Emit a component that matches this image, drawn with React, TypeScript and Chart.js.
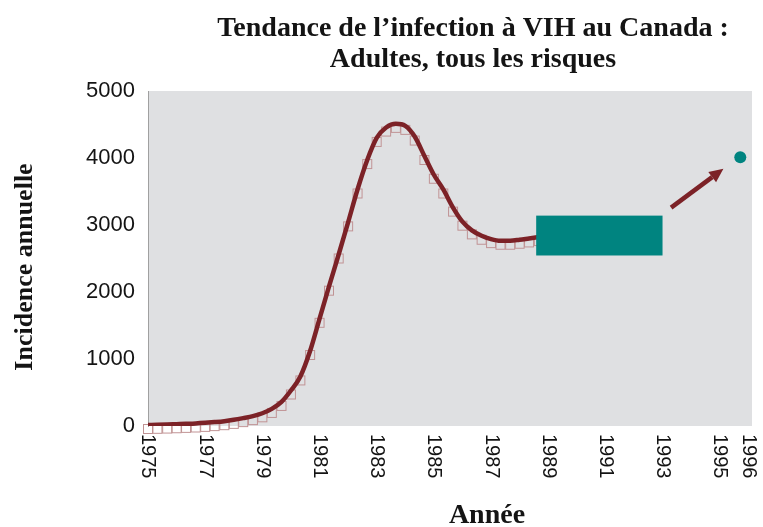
import React, { useEffect, useRef } from "react";
import { Chart, registerables } from "chart.js";

Chart.register(...registerables);

const TITLE_LINES = ["Tendance de l\u2019infection à VIH au Canada :", "Adultes, tous les risques"];
const Y_TITLE = "Incidence annuelle";
const X_TITLE = "Année";

const X_TICKS = [1975, 1977, 1979, 1981, 1983, 1985, 1987, 1989, 1991, 1993, 1995, 1996];
const Y_TICKS = [0, 1000, 2000, 3000, 4000, 5000];

const YEARS = [
  1975.0, 1975.33, 1975.67, 1976.0, 1976.33, 1976.67, 1977.0, 1977.33, 1977.67,
  1978.0, 1978.33, 1978.67, 1979.0, 1979.33, 1979.67, 1980.0, 1980.33, 1980.67,
  1981.0, 1981.33, 1981.67, 1982.0, 1982.33, 1982.67, 1983.0, 1983.33, 1983.67,
  1984.0, 1984.33, 1984.67, 1985.0, 1985.33, 1985.67, 1986.0, 1986.33, 1986.67,
  1987.0, 1987.33, 1987.67, 1988.0, 1988.33, 1988.67,
];
const INCIDENCE = [
  15, 18, 22, 27, 32, 38, 47, 58, 72,
  92, 118, 148, 190, 255, 360, 530, 740, 1120,
  1600, 2080, 2560, 3040, 3530, 3970, 4300, 4455, 4510,
  4480, 4320, 4030, 3750, 3530, 3260, 3050, 2920, 2840,
  2790, 2765, 2765, 2780, 2800, 2820,
];

// projection 1996 point
const PROJ_YEAR = [1995.72];
const PROJ_VALUE = [4010];

// teal box covering projection period (years / values)
const BOX_YEARS = [1988.58, 1993.0];
const BOX_VALUES = [2545, 3140];

// arrow (from -> to)
const ARROW_YEARS = [1993.3, 1995.13];
const ARROW_VALUES = [3259, 3839];

const MAROON = "#7c2227";
const TEAL = "#008480";
const SQUARE = "#c09394";

function makeSquareImage(): HTMLCanvasElement {
  const c = document.createElement("canvas");
  c.width = 12;
  c.height = 20;
  const g = c.getContext("2d")!;
  g.strokeStyle = SQUARE;
  g.lineWidth = 1;
  g.strokeRect(1.5, 9.5, 9, 9);
  return c;
}

const overlayPlugin = {
  id: "overlay",
  beforeDraw(chart: any) {
    const { ctx, chartArea } = chart;
    ctx.save();
    ctx.fillStyle = "#ffffff";
    ctx.fillRect(0, 0, chart.width, chart.height);
    ctx.fillStyle = "#dfe0e2";
    ctx.fillRect(chartArea.left, chartArea.top, chartArea.right - chartArea.left, chartArea.bottom - chartArea.top);
    ctx.restore();
  },
  afterDatasetsDraw(chart: any) {
    const { ctx } = chart;
    const xs = chart.scales.x;
    const ys = chart.scales.y;
    ctx.save();
    // box
    const bx0 = xs.getPixelForValue(BOX_YEARS[0]);
    const bx1 = xs.getPixelForValue(BOX_YEARS[1]);
    const by0 = ys.getPixelForValue(BOX_VALUES[1]);
    const by1 = ys.getPixelForValue(BOX_VALUES[0]);
    ctx.fillStyle = TEAL;
    ctx.fillRect(bx0, by0, bx1 - bx0, by1 - by0);
    // arrow
    const ax0 = xs.getPixelForValue(ARROW_YEARS[0]);
    const ay0 = ys.getPixelForValue(ARROW_VALUES[0]);
    const ax1 = xs.getPixelForValue(ARROW_YEARS[1]);
    const ay1 = ys.getPixelForValue(ARROW_VALUES[1]);
    const ang = Math.atan2(ay1 - ay0, ax1 - ax0);
    const headLen = 14;
    const headW = 6.5;
    const bxh = ax1 - headLen * Math.cos(ang);
    const byh = ay1 - headLen * Math.sin(ang);
    ctx.strokeStyle = MAROON;
    ctx.lineWidth = 4.5;
    ctx.beginPath();
    ctx.moveTo(ax0, ay0);
    ctx.lineTo(bxh, byh);
    ctx.stroke();
    ctx.fillStyle = MAROON;
    ctx.beginPath();
    ctx.moveTo(ax1, ay1);
    ctx.lineTo(bxh + headW * Math.sin(ang), byh - headW * Math.cos(ang));
    ctx.lineTo(bxh - headW * Math.sin(ang), byh + headW * Math.cos(ang));
    ctx.closePath();
    ctx.fill();
    ctx.restore();
  },
  afterDraw(chart: any) {
    const { ctx } = chart;
    const xs = chart.scales.x;
    ctx.save();
    ctx.fillStyle = "#141414";
    // title
    ctx.font = "bold 28px 'Liberation Serif', 'Times New Roman', serif";
    ctx.textAlign = "center";
    ctx.textBaseline = "alphabetic";
    ctx.fillText(TITLE_LINES[0], 473, 36);
    ctx.fillText(TITLE_LINES[1], 473, 67);
    // x title
    ctx.fillText(X_TITLE, 487, 523);
    // y title
    ctx.save();
    ctx.font = "bold 26px 'Liberation Serif', 'Times New Roman', serif";
    ctx.translate(32, 267);
    ctx.rotate(-Math.PI / 2);
    ctx.textAlign = "center";
    ctx.textBaseline = "alphabetic";
    ctx.fillText(Y_TITLE, 0, 0);
    ctx.restore();
    // x tick labels rotated clockwise
    ctx.font = "20px 'Liberation Sans', Arial, sans-serif";
    ctx.textAlign = "left";
    ctx.textBaseline = "middle";
    for (const t of X_TICKS) {
      const px = xs.getPixelForValue(t);
      ctx.save();
      ctx.translate(px, 434);
      ctx.rotate(Math.PI / 2);
      ctx.fillText(String(t), 0, 0);
      ctx.restore();
    }
    ctx.restore();
  },
};

export default function App() {
  const ref = useRef<HTMLCanvasElement | null>(null);
  useEffect(() => {
    document.body.style.margin = "0";
    const canvas = ref.current!;
    const pts = YEARS.map((y, i) => ({ x: y, y: INCIDENCE[i] }));
    const chart = new Chart(canvas, {
      type: "line",
      data: {
        datasets: [
          {
            type: "line",
            data: pts,
            borderColor: MAROON,
            borderWidth: 4.5,
            pointRadius: 0,
            cubicInterpolationMode: "monotone",
            fill: false,
            order: 0,
          } as any,
          {
            type: "scatter",
            data: pts,
            pointStyle: makeSquareImage() as any,
            pointRadius: 5,
            showLine: false,
            clip: false,
            order: 1,
          } as any,
          {
            type: "scatter",
            data: PROJ_YEAR.map((y, i) => ({ x: y, y: PROJ_VALUE[i] })),
            pointRadius: 6,
            pointBackgroundColor: TEAL,
            pointBorderWidth: 0,
            clip: false,
            order: 0,
          } as any,
        ],
      },
      options: {
        responsive: false,
        animation: false,
        events: [],
        layout: { padding: { top: 91, right: 11, left: 0, bottom: 0 } },
        plugins: { legend: { display: false }, title: { display: false }, tooltip: { enabled: false } },
        scales: {
          x: {
            type: "linear",
            min: 1975,
            max: 1996.13,
            grid: { display: false },
            border: { display: false },
            ticks: { display: false },
            afterFit: (s: any) => {
              s.height = 101;
            },
          },
          y: {
            type: "linear",
            min: 0,
            max: 5000,
            afterBuildTicks: (s: any) => {
              s.ticks = Y_TICKS.map((v) => ({ value: v }));
            },
            grid: { display: false, drawTicks: false },
            border: { display: true, color: "#a0a0a0", width: 1 },
            ticks: {
              padding: 13,
              color: "#141414",
              font: { family: "'Liberation Sans', Arial, sans-serif", size: 22 },
              callback: (v: any) => String(v),
            },
            afterFit: (s: any) => {
              s.width = 148;
            },
          },
        },
      } as any,
      plugins: [overlayPlugin],
    });
    return () => chart.destroy();
  }, []);
  return (
    <div style={{ width: 763, height: 527 }}>
      <canvas ref={ref} width={763} height={527} style={{ display: "block" }} />
    </div>
  );
}
